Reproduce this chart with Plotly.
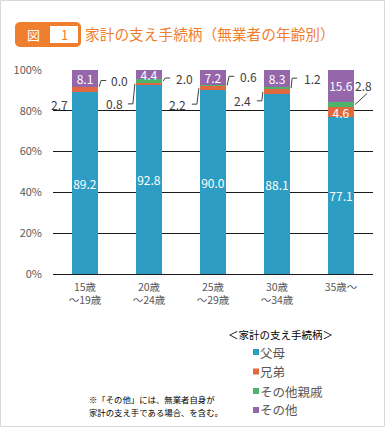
import math
import plotly.graph_objects as go

# ---------------- data ----------------
categories = ["15歳<br>～19歳", "20歳<br>～24歳", "25歳<br>～29歳", "30歳<br>～34歳", "35歳～"]
series_names = ["父母", "兄弟", "その他親戚", "その他"]
parents = [89.2, 92.8, 90.0, 88.1, 77.1]
siblings = [2.7, 0.8, 2.2, 2.4, 4.6]
relatives = [0.0, 2.0, 0.6, 1.2, 2.8]
others = [8.1, 4.4, 7.2, 8.3, 15.6]
y_ticks = [0, 20, 40, 60, 80, 100]
y_tick_labels = [f"{v}%" for v in y_ticks]

series_values = [parents, siblings, relatives, others]
colors = ["#2E9DC3", "#E0693F", "#4DB36A", "#9566AA"]
# which labels sit inside their segment
inside_mask = [
    [True] * 5,
    [False, False, False, False, True],
    [False] * 5,
    [True] * 5,
]

# ---------------- layout constants ----------------
W, H = 385, 427
ML, MR, MT, MB = 53, 12, 70, 153
PW, PH = W - ML - MR, H - MT - MB
BAR_W = 0.41
FONT = "Noto Sans CJK JP"


def px_x(px):
    return (px - ML) / PW


def px_y(py):
    return (H - MB - py) / PH


def pix_path(points, close=False):
    s = "M" + " L".join(f"{x:.2f},{-y:.2f}" for x, y in points)
    return s + (" Z" if close else "")


fig = go.Figure()
xs = list(range(len(categories)))
for name, vals, col, mask in zip(series_names, series_values, colors, inside_mask):
    fig.add_trace(go.Bar(
        x=xs, y=vals, name=name, width=BAR_W,
        marker=dict(color=col, line=dict(width=0)),
        text=[f"{v:.1f}" if m else "" for v, m in zip(vals, mask)],
        textposition="inside", insidetextanchor="middle", textangle=0,
        textfont=dict(color="white", size=12, family=FONT),
        showlegend=False, hoverinfo="skip",
    ))

shapes = []
annotations = []

# outside labels: (series index, category, side, xshift, yshift, leader points in px, y up)
outside = [
    (1, 0, "left", -2, -15, None),
    (2, 0, "right", 11, 6, [(1, 0), (3, 6), (8, 6)]),
    (1, 1, "left", -11, -20, [(-1, 0), (-3, -20), (-8, -20)]),
    (2, 1, "right", 12, 3, [(1, 0), (3, 3), (8, 3)]),
    (1, 2, "left", -12, -16, [(-1, 0), (-3, -16), (-8, -16)]),
    (2, 2, "right", 12, 9, [(1, 0), (3, 9), (8, 9)]),
    (1, 3, "left", -11, -9, [(-1, 0), (-2, -9), (-7, -9)]),
    (2, 3, "right", 12, 10, [(1, 0), (2, 10), (7, 10)]),
    (2, 4, "right", -1, 19, [(1, 0), (13, 11)]),
]
for si, ci, side, dx, dy, pts in outside:
    base = sum(series_values[k][ci] for k in range(si))
    v = series_values[si][ci]
    ymid = base + v / 2
    xe = ci + (BAR_W / 2 if side == "right" else -BAR_W / 2)
    annotations.append(dict(
        x=xe, y=ymid, xref="x", yref="y", xshift=dx, yshift=dy,
        text=f"{v:.1f}", showarrow=False,
        xanchor="left" if side == "right" else "right", yanchor="middle",
        font=dict(size=12, color="#404040", family=FONT),
    ))
    if pts:
        shapes.append(dict(
            type="path", xref="x", yref="y", xsizemode="pixel", ysizemode="pixel",
            xanchor=xe, yanchor=ymid,
            path="M" + " L".join(f"{x},{y}" for x, y in pts),
            line=dict(color="#404040", width=1), layer="above",
        ))

# pixel-anchored shapes (figure top-left origin)
ax0, ay0 = px_x(0), px_y(0)


def pix_shape(points, fill=None, line_col=None, lw=1, close=True):
    d = dict(type="path", xref="paper", yref="paper", xsizemode="pixel", ysizemode="pixel",
             xanchor=ax0, yanchor=ay0, path=pix_path(points, close), layer="above")
    d["fillcolor"] = fill if fill else "rgba(0,0,0,0)"
    d["line"] = dict(color=line_col if line_col else "rgba(0,0,0,0)", width=lw if line_col else 0)
    return d


# outer border
shapes.append(pix_shape([(0.5, 0.5), (384.5, 0.5), (384.5, 426.5), (0.5, 426.5)],
                        line_col="#D9D9D9", lw=1))


def rounded(x0, y0, x1, y1, r):
    pts = []
    for cx, cy, a0 in [(x1 - r, y0 + r, -90), (x1 - r, y1 - r, 0), (x0 + r, y1 - r, 90), (x0 + r, y0 + r, 180)]:
        for k in range(7):
            a = math.radians(a0 + 15 * k)
            pts.append((cx + r * math.cos(a), cy + r * math.sin(a)))
    return pts


# title badge
shapes.append(pix_shape(rounded(15, 22, 81, 47, 5), fill="#EF7F2F"))
shapes.append(pix_shape([(50, 26), (78, 26), (78, 43), (50, 43)], fill="white"))
annotations.append(dict(x=px_x(33), y=px_y(34.5), xref="paper", yref="paper", text="図",
                        showarrow=False, xanchor="center", yanchor="middle",
                        font=dict(size=13, color="white", family=FONT)))
annotations.append(dict(x=px_x(64), y=px_y(34.5), xref="paper", yref="paper", text="1",
                        showarrow=False, xanchor="center", yanchor="middle",
                        font=dict(size=13, color="#EF7F2F", family=FONT)))
annotations.append(dict(x=px_x(83), y=px_y(33.5), xref="paper", yref="paper",
                        text="家計の支え手続柄（無業者の年齢別）",
                        showarrow=False, xanchor="left", yanchor="middle",
                        font=dict(size=14.7, color="#EF7F2F", family=FONT)))

# legend
annotations.append(dict(x=px_x(280.5), y=px_y(334), xref="paper", yref="paper",
                        text="＜家計の支え手続柄＞", showarrow=False, xanchor="center", yanchor="middle",
                        font=dict(size=10.5, color="#000000", family=FONT)))
legend_y = [352, 371.5, 391, 410]
for name, col, yc in zip(series_names, colors, legend_y):
    shapes.append(pix_shape([(253, yc - 3), (259, yc - 3), (259, yc + 3), (253, yc + 3)], fill=col))
    annotations.append(dict(x=px_x(258), y=px_y(yc), xref="paper", yref="paper", text=name,
                            showarrow=False, xanchor="left", yanchor="middle",
                            font=dict(size=12.5, color="#595959", family=FONT)))

# footnote
for txt, yc in [("※「その他」には、無業者自身が", 399), ("家計の支え手である場合、を含む。", 411.5)]:
    annotations.append(dict(x=px_x(87), y=px_y(yc), xref="paper", yref="paper", text=txt,
                            showarrow=False, xanchor="left", yanchor="middle",
                            font=dict(size=8.4, color="#000000", family=FONT)))

fig.update_layout(
    width=W, height=H, margin=dict(l=ML, r=MR, t=MT, b=MB, autoexpand=False),
    paper_bgcolor="white", plot_bgcolor="white",
    barmode="stack", showlegend=False,
    uniformtext=dict(minsize=12, mode="show"),
    font=dict(family=FONT, color="#595959"),
    shapes=shapes, annotations=annotations,
    xaxis=dict(range=[-0.5, len(categories) - 0.5], tickmode="array", tickvals=xs, ticktext=categories,
               showgrid=False, zeroline=False, showline=False, ticks="",
               tickfont=dict(size=10.5, color="#595959", family=FONT),
               ticklabelstandoff=5, automargin=False, fixedrange=True),
    yaxis=dict(range=[0, 100], tickmode="array", tickvals=y_ticks, ticktext=y_tick_labels,
               showgrid=True, gridcolor="#1A1A1A", gridwidth=1,
               zeroline=True, zerolinecolor="#1A1A1A", zerolinewidth=1,
               showline=False, ticks="",
               tickfont=dict(size=11, color="#595959", family=FONT),
               ticklabelstandoff=10, automargin=False, fixedrange=True),
)

fig.write_html("out.html", config={"displayModeBar": False},
               post_script="document.body.style.margin='0';document.body.style.padding='0';")
